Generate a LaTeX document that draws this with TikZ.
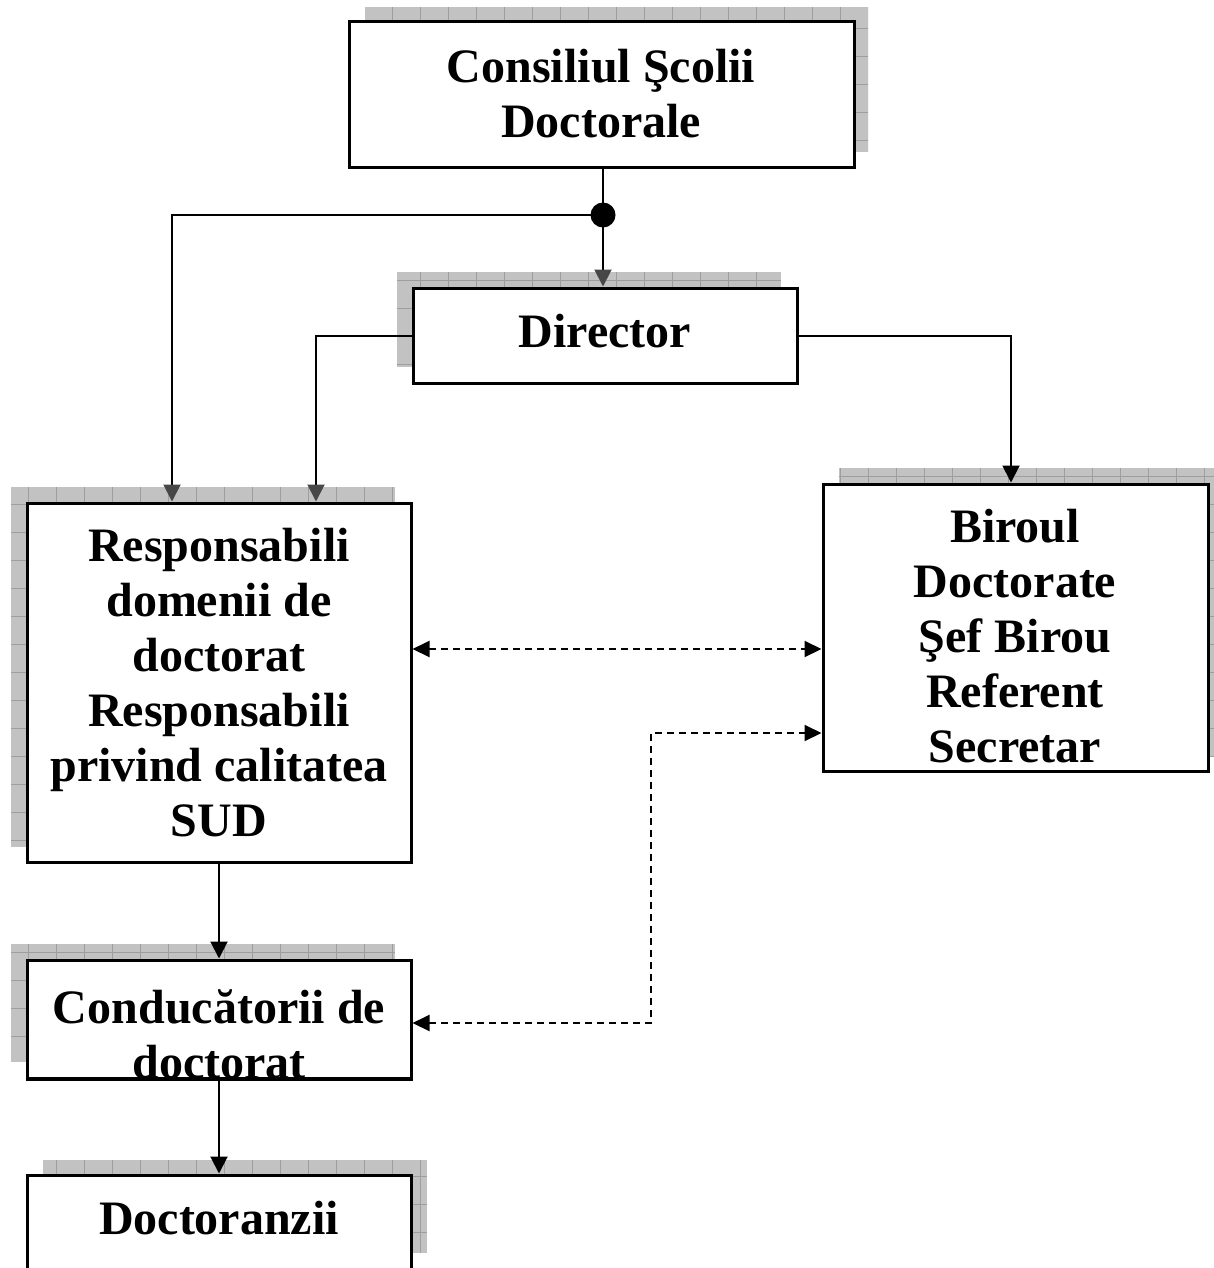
\documentclass[tikz,border=0pt]{standalone}
\usepackage{fontspec}
\setmainfont{Liberation Serif}
\usetikzlibrary{arrows.meta}
\newcommand\shadowrect[4]{%
  \begin{scope}
    \clip (#1,#2) rectangle (#3,#4);
    \fill[shadowfill] (#1,#2) rectangle (#3,#4);
    \draw[gridl] (#1,#2) grid[step=14pt] (#3,#4);
  \end{scope}}
\begin{document}
\begin{tikzpicture}[x=0.5pt,y=-0.5pt,
  box/.style={draw=black, line width=1.5pt, fill=white, inner sep=0pt},
  shadowfill/.style={fill=black!24},
  gridl/.style={draw=black!38, line width=0.35pt},
  lbl/.style={font=\bfseries\fontsize{24}{27.5}\selectfont, align=center, inner sep=0pt},
  conn/.style={line width=1pt},
  tipk/.style={-{Triangle[length=8.5pt,width=8.5pt]}},
  tipg/.style={-{Triangle[length=8.5pt,width=8.5pt,color=black!72]}},
  tipboth/.style={{Triangle[length=8.5pt,width=8pt]}-{Triangle[length=8.5pt,width=8pt]}},
  dashconn/.style={line width=1pt, dash pattern=on 3.5pt off 2.5pt},
]
\useasboundingbox (0,0) rectangle (1214,1268);
\clip (0,0) rectangle (1214,1268);

% shadows
\shadowrect{365}{7}{868}{152}
\shadowrect{397}{272}{781}{367}
\shadowrect{11}{487}{395}{847}
\shadowrect{839}{468}{1224}{756}
\shadowrect{11}{944}{395}{1062}
\shadowrect{43}{1160}{427}{1253}

% boxes
\node[box, minimum width=252.5pt, minimum height=72.5pt] (cs) at (601.5,94.5) {};
\node[box, minimum width=192pt, minimum height=47.5pt] (dir) at (605,335.5) {};
\node[box, minimum width=192pt, minimum height=179.5pt] (resp) at (219,682.5) {};
\node[box, minimum width=192.5pt, minimum height=143.5pt] (bir) at (1015.5,627.5) {};
\node[box, minimum width=192pt, minimum height=59pt] (cond) at (219,1019) {};
\node[box, minimum width=192pt, minimum height=57.5pt] (doc) at (219,1232.5) {};

% connectors
\node[circle, fill=black, minimum size=12.5pt, inner sep=0pt] (dot) at (603,215) {};
\coordinate (lb) at (172,215);
\coordinate (rx) at (316,0);
\coordinate (bx) at (1011,0);
\coordinate (dy) at (0,649);
\coordinate (cy) at (0,1023);
\coordinate (mid) at (651,733);

\draw[conn] (cs.south -| dot) -- (dot.center);
\draw[conn,tipg] (dot.center) -- (dot |- dir.north);
\draw[conn,tipg] (dot.center) -- (lb) -- (lb |- resp.north);
\draw[conn,tipg] (dir.west) -| (rx |- resp.north);
\draw[conn,tipk] (dir.east) -| (bx |- bir.north);
\draw[dashconn,tipboth] (resp.east |- dy) -- (bir.west |- dy);
\draw[dashconn,tipboth] (cond.east |- cy) -| (mid) -- (bir.west |- mid);
\draw[conn,tipk] (resp.south) -- (cond.north);
\draw[conn,tipk] (cond.south) -- (doc.north);

% labels
\node[lbl] (tcs) at (601,94) {Consiliul Şcolii\\Doctorale};
\node[lbl] (tdir) at (605,331) {Director};
\node[lbl] (tresp) at (219,683) {Responsabili\\domenii de\\doctorat\\Responsabili\\privind calitatea\\SUD};
\node[lbl] (tbir) at (1015,636) {Biroul\\Doctorate\\Şef Birou\\Referent\\Secretar};
\begin{scope}
  \clip (cond.south west) rectangle (cond.north east);
  \node[lbl] (tcond) at (219,1034) {Conducătorii de\\doctorat};
\end{scope}
\draw[line width=1.5pt] (cond.south west) -- (cond.south east);
\node[lbl] (tdoc) at (219,1218) {Doctoranzii};
\end{tikzpicture}
\end{document}
